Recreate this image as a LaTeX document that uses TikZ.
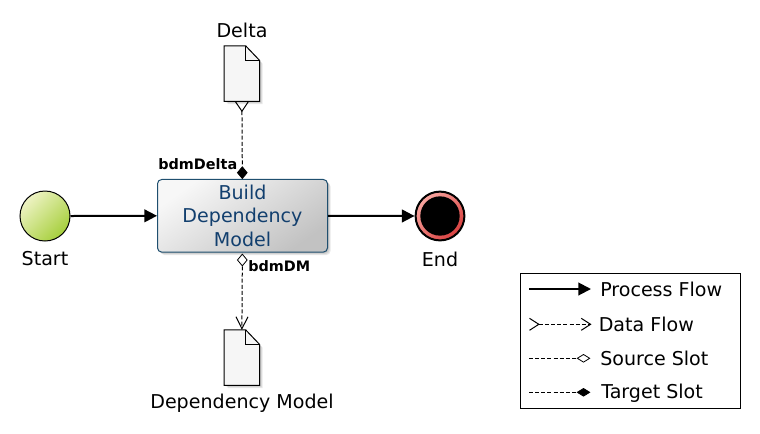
\documentclass[tikz,border=0pt]{standalone}
\usepackage{fontspec}
\setmainfont{DejaVu Sans}
\usetikzlibrary{arrows.meta,shapes.geometric}
\definecolor{taskblue}{HTML}{123F6E}
\definecolor{taskedge}{HTML}{1F4F6F}
\definecolor{startlight}{HTML}{EEF3C4}
\definecolor{startdark}{HTML}{A6CF3C}
\definecolor{endlight}{HTML}{F9A6A0}
\definecolor{enddark}{HTML}{D8403F}
\tikzset{
  lbl/.style={inner sep=0pt,font=\fontsize{14.3}{17}\selectfont,text=black},
  slotlbl/.style={inner sep=0pt,font=\fontsize{10.8}{13}\selectfont\bfseries,text=black},
  legtxt/.style={lbl,anchor=west},
  docbox/.style={rectangle,minimum width=26.25pt,minimum height=41.25pt,inner sep=0pt},
  docshape/.style={draw=black,line width=.75pt,fill=white!96.5!black,line join=miter},
  flow/.style={line width=1.5pt,-{Triangle[length=9.5pt,width=9.5pt]}},
  dataflow/.style={line width=.75pt,dash pattern=on 3pt off 1.6pt,-{Straight Barb[length=9pt,width=9pt,line width=.75pt]}},
  tailflow/.style={line width=.75pt,dash pattern=on 3pt off 1.6pt,{Straight Barb[reversed,length=7pt,width=9.5pt,line width=.75pt]}-},
  slotline/.style={line width=.75pt,dash pattern=on 3pt off 1.6pt},
  slot/.style={diamond,draw=black,line width=.6pt,inner sep=0pt,minimum width=7.5pt,minimum height=9pt,shape aspect=.8},
  srcslot/.style={slot,fill=white},
  tgtslot/.style={slot,fill=black},
  legsrc/.style={diamond,draw=black,line width=.6pt,fill=white,inner sep=0pt,minimum width=9.5pt,minimum height=6pt},
  legtgt/.style={legsrc,fill=black},
  shadowlayer/.style={fill=black,opacity=.09,draw=none},
}
\begin{document}
\begin{tikzpicture}[x=.75pt,y=-.75pt]
\useasboundingbox (0,0) rectangle (760,433);
% document anchors
\node[docbox] (delta) at (241.9,73.6) {};
\node[docbox] (dm) at (241.9,357.6) {};
% shadows
\foreach \d in {1,2,3}{
  \fill[shadowlayer,rounded corners=3pt] (157.5+\d,179.5+\d) rectangle (327.5+\d,252+\d);
  \fill[shadowlayer] (224.5+\d,46+\d) -- (245.5+\d,46+\d) -- (259.5+\d,60.7+\d) -- (259.5+\d,101.2+\d) -- (224.5+\d,101.2+\d) -- cycle;
  \fill[shadowlayer] (224.5+\d,330+\d) -- (245.5+\d,330+\d) -- (259.5+\d,344.7+\d) -- (259.5+\d,385.2+\d) -- (224.5+\d,385.2+\d) -- cycle;
}
% task
\node[rectangle,rounded corners=3.2pt,draw=taskedge,line width=.75pt,
  minimum width=127.5pt,minimum height=54.5pt,inner sep=0pt,
  top color=white!94!gray,bottom color=white!76!black,shading angle=35,
  align=center,text=taskblue,font=\fontsize{14.3}{17.7}\selectfont] (task) at (242.5,215.8)
  {Build\\Dependency\\Model};
% events
\node[circle,draw=black,line width=.75pt,minimum size=37.5pt,inner sep=0pt,
  top color=startlight,bottom color=startdark,shading angle=45] (start) at (45,216) {};
\node[circle,draw=black,line width=1.5pt,minimum size=36.6pt,inner sep=0pt,
  top color=endlight,bottom color=enddark,shading angle=45] (end) at (440,216) {};
\node[circle,fill=black,minimum size=29.5pt,inner sep=0pt] (endcore) at (end.center) {};
% documents
\draw[docshape] (delta.north west) -- ([xshift=-10.5pt]delta.north east) -- ([yshift=-11pt]delta.north east) -- (delta.south east) -- (delta.south west) -- cycle;
\draw[line width=.75pt] ([xshift=-10.5pt]delta.north east) |- ([yshift=-11pt]delta.north east);
\draw[docshape] (dm.north west) -- ([xshift=-10.5pt]dm.north east) -- ([yshift=-11pt]dm.north east) -- (dm.south east) -- (dm.south west) -- cycle;
\draw[line width=.75pt] ([xshift=-10.5pt]dm.north east) |- ([yshift=-11pt]dm.north east);
% slots
\node[tgtslot] (tslot) at (242.3,172.7) {};
\node[srcslot] (sslot) at (242.3,260) {};
% connectors
\draw[flow] (start.east) -- (task.west);
\draw[flow] (task.east) -- (end.west);
\draw[tailflow] (delta.south) -- (tslot.north);
\draw[dataflow] (sslot.south) -- (dm.north);
% labels
\node[lbl] (tdelta) at (242,30) {Delta};
\node[lbl] (tstart) at (45,259) {Start};
\node[lbl] (tend) at (440,259) {End};
\node[lbl] (tdm) at (242,403.5) {Dependency Model};
\node[slotlbl,anchor=east] (tbd) at (237.5,164) {bdmDelta};
\node[slotlbl,anchor=west] (tbm) at (248,266) {bdmDM};
% legend
\node[rectangle,draw=black,line width=.75pt,minimum width=165pt,minimum height=101.2pt,inner sep=0pt] (legend) at (630.2,340.8) {};
\coordinate (pa) at (529,289);
\coordinate (pb) at (591,289);
\draw[flow] (pa) -- (pb);
\node[legtxt] (l1) at (600,289.5) {Process Flow};
\coordinate (da) at (529,324.3);
\coordinate (db) at (591.5,324.3);
\draw[slotline,{Straight Barb[reversed,length=7pt,width=9pt,line width=.75pt]}-{Straight Barb[length=7pt,width=9pt,line width=.75pt]}] (da) -- (db);
\node[legtxt] (l2) at (598.5,324.3) {Data Flow};
\coordinate (sa) at (529,358.3);
\node[legsrc] (ss) at (583.5,358.3) {};
\draw[slotline] (sa) -- (ss.west);
\node[legtxt] (l3) at (600,358.3) {Source Slot};
\coordinate (ta) at (529,392.3);
\node[legtgt] (ts) at (583.5,392.3) {};
\draw[slotline] (ta) -- (ts.west);
\node[legtxt] (l4) at (601,393) {Target Slot};
\end{tikzpicture}
\end{document}
